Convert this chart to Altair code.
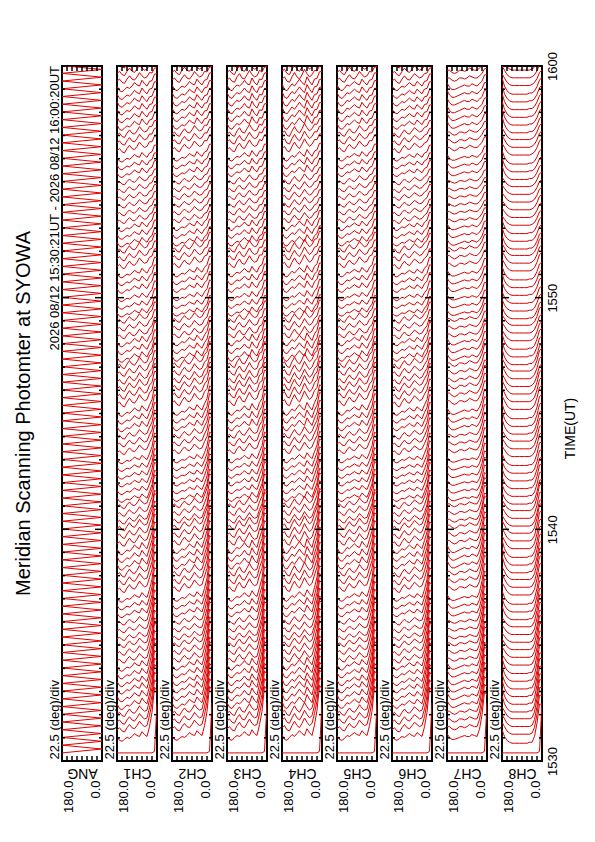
import altair as alt
import pandas as pd

FONT = "Liberation Sans"
TITLE = "Meridian Scanning Photomter at SYOWA"
SUBTITLE = "2026 08/12 15:30:21UT - 2026 08/12 16:00:20UT"
DIV_LABEL = "22.5 (deg)/div"
TIME_TITLE = "TIME(UT)"
CHANNELS = ["ANG", "CH1", "CH2", "CH3", "CH4", "CH5", "CH6", "CH7", "CH8"]
TIME_TICK_VALUES = [0, 10, 20, 30]
TIME_TICK_LABELS = ["1530", "1540", "1550", "1600"]
ANGLE_LABEL_VALUES = [0, 180]
ANGLE_TICKS = [22.5, 45, 67.5, 90, 112.5, 135, 157.5]
MINOR_MINUTES = [m for m in range(1, 30) if m not in (10, 20)]
MAJOR_MINUTES = [10, 20]

# scan angles (deg), left (180) to right (0)
ANGLES = [180.0, 168.75, 157.5, 146.25, 135.0, 123.75, 112.5, 101.25, 90.0,
          78.75, 67.5, 56.25, 45.0, 33.75, 22.5, 11.25, 0.0]

# scan start times, seconds after 15:30:00
SCAN_SEC = [21, 41, 61, 81, 101, 121, 141, 161, 181, 201, 221, 241, 261, 281, 301,
            321, 341, 361, 381, 401, 421, 441, 461, 481, 501, 521, 541, 561, 581, 601,
            621, 641, 661, 681, 701, 721, 741, 761, 781, 801, 821, 841, 861, 881, 901,
            921, 941, 961, 981, 1001, 1021, 1041, 1061, 1081, 1101, 1121, 1141, 1161, 1181, 1201,
            1221, 1241, 1261, 1281, 1301, 1321, 1341, 1361, 1381, 1401, 1421, 1441, 1461, 1481, 1501,
            1521, 1541, 1561, 1581, 1601, 1621, 1641, 1661, 1681, 1701, 1721, 1741, 1761, 1781, 1801]
SCAN_STEP_SEC = 20
HALF_SWEEP_SEC = 10

# intensity profiles (in units of one scan spacing), 180 deg -> 0 deg; two observed shapes
PROFILES_A = {
    "CH1": [0.9, 0.5, 0.4, 0.6, 0.8, 0.7, 0.9, 1.2, 1.0, 0.9, 1.4, 1.1, 0.9, 1.2, 1.0, 1.2, 1.3],
    "CH2": [1.0, 0.6, 0.5, 0.7, 0.9, 0.8, 1.0, 1.3, 1.1, 1.0, 1.5, 1.2, 1.0, 1.3, 1.1, 1.3, 1.4],
    "CH3": [1.0, 0.6, 0.5, 0.8, 1.0, 0.9, 1.1, 1.4, 1.1, 1.0, 1.6, 1.2, 1.0, 1.4, 1.1, 1.3, 1.4],
    "CH4": [1.1, 0.6, 0.5, 0.8, 1.1, 0.9, 1.2, 1.5, 1.2, 1.0, 1.7, 1.3, 1.0, 1.4, 1.2, 1.4, 1.5],
    "CH5": [1.0, 0.6, 0.5, 0.7, 1.0, 0.9, 1.1, 1.3, 1.1, 1.0, 1.5, 1.2, 1.0, 1.3, 1.1, 1.3, 1.4],
    "CH6": [0.9, 0.6, 0.5, 0.7, 0.9, 0.8, 1.0, 1.2, 1.0, 0.9, 1.3, 1.1, 0.9, 1.2, 1.0, 1.2, 1.3],
    "CH7": [1.2, 0.8, 0.6, 0.6, 0.7, 0.8, 0.9, 1.0, 0.9, 0.9, 1.1, 1.0, 0.9, 1.0, 1.0, 1.2, 1.3],
    "CH8": [1.6, 0.9, 0.5, 0.3, 0.2, 0.2, 0.2, 0.2, 0.2, 0.2, 0.2, 0.3, 0.3, 0.4, 0.6, 0.9, 1.2],
}
PROFILES_B = {
    "CH1": [0.7, 0.9, 0.6, 0.5, 0.9, 1.2, 0.9, 0.8, 1.1, 1.5, 1.2, 1.0, 1.1, 1.4, 1.1, 1.2, 1.3],
    "CH2": [0.8, 1.0, 0.7, 0.6, 1.0, 1.3, 1.0, 0.9, 1.2, 1.6, 1.3, 1.1, 1.2, 1.5, 1.2, 1.3, 1.4],
    "CH3": [0.8, 1.0, 0.7, 0.6, 1.1, 1.4, 1.0, 0.9, 1.3, 1.7, 1.3, 1.1, 1.2, 1.6, 1.2, 1.3, 1.4],
    "CH4": [0.9, 1.1, 0.7, 0.6, 1.1, 1.5, 1.1, 0.9, 1.3, 1.8, 1.4, 1.1, 1.3, 1.6, 1.3, 1.4, 1.5],
    "CH5": [0.8, 1.0, 0.7, 0.6, 1.0, 1.3, 1.0, 0.9, 1.2, 1.6, 1.3, 1.1, 1.2, 1.5, 1.2, 1.3, 1.4],
    "CH6": [0.7, 0.9, 0.6, 0.5, 0.9, 1.2, 0.9, 0.8, 1.1, 1.4, 1.2, 1.0, 1.1, 1.3, 1.1, 1.2, 1.3],
    "CH7": [1.0, 1.0, 0.8, 0.7, 0.8, 1.0, 1.0, 0.9, 1.0, 1.2, 1.1, 1.0, 1.0, 1.1, 1.1, 1.2, 1.3],
    "CH8": [1.4, 1.0, 0.6, 0.4, 0.3, 0.3, 0.3, 0.3, 0.3, 0.3, 0.3, 0.3, 0.4, 0.5, 0.7, 1.0, 1.3],
}
HORIZON_SHAPE = [0, 0, 0, 0, 0, 0, 0, 0, 0, 0, 0, 0, 0, 0.15, 0.5, 1.0, 0.9]
HORIZON_SCALE = {"CH1": 1.0, "CH2": 1.0, "CH3": 1.0, "CH4": 1.0, "CH5": 1.0,
                 "CH6": 1.0, "CH7": 0.9, "CH8": 0.7}
FIRST_SCAN = [0, 0, 0, 0, 0, 0, 0, 0, 0, 0, 0, 0, 0, 0, 0, 0.2, 6.5]
# per-minute values, 15:30 .. 16:00
SHAPE_USED = [0, 1, 0, 0, 1, 1, 0, 1, 0, 1, 1, 0, 0, 1, 0, 1, 1, 0, 1, 0, 0, 1, 0, 1, 1, 0, 1, 0, 0, 1, 0]
MID_GAIN = [1.25, 1.4, 1.5, 1.4, 1.25, 1.1, 1.25, 1.5, 1.6, 1.5, 1.25, 1.1, 1.1, 1.25, 1.4, 1.6,
            1.5, 1.4, 1.25, 1.1, 1.25, 1.4, 1.25, 1.1, 1.1, 1.25, 1.4, 1.5, 1.5, 1.4, 1.4]
HORIZON_GAIN = [6.0, 5.8, 5.5, 5.2, 5.0, 4.8, 4.5, 4.2, 4.0, 3.8, 3.5, 3.3, 3.1, 2.9, 2.7, 2.5,
                2.3, 2.1, 1.9, 1.8, 1.7, 1.6, 1.5, 1.4, 1.3, 1.2, 1.2, 1.1, 1.1, 1.0, 1.0]

rows = []
i = 0
for s in SCAN_SEC:
    # mirror angle: 180 -> 0 -> 180 within each scan
    rows.append({"ch": "ANG", "scan": 0, "idx": i, "angle": 180.0, "t": s / 60}); i += 1
    rows.append({"ch": "ANG", "scan": 0, "idx": i, "angle": 0.0, "t": (s + HALF_SWEEP_SEC) / 60}); i += 1
rows.append({"ch": "ANG", "scan": 0, "idx": i, "angle": 180.0, "t": (SCAN_SEC[-1] + SCAN_STEP_SEC) / 60})

for ch in PROFILES_A:
    for k, s in enumerate(SCAN_SEC):
        m = s // 60
        prof = PROFILES_A[ch] if SHAPE_USED[m] == 0 else PROFILES_B[ch]
        for j, a in enumerate(ANGLES):
            if k == 0:
                v = FIRST_SCAN[j]
            else:
                v = prof[j] * MID_GAIN[m] + HORIZON_SHAPE[j] * HORIZON_GAIN[m] * HORIZON_SCALE[ch]
            rows.append({"ch": ch, "scan": k, "idx": j, "angle": a,
                         "t": (s + v * SCAN_STEP_SEC) / 60})
df = pd.DataFrame(rows)

W, H = 40, 695
RED = "#dd0000"
label_expr = "[" + ",".join("'" + l + "'" for l in TIME_TICK_LABELS) + "][round(datum.value/10)]"


def panel(ch, n):
    first = n == 0
    last = n == len(CHANNELS) - 1
    xs = alt.Scale(domain=[0, 180], reverse=True, nice=False, zero=False)
    ys = alt.Scale(domain=[0, 30], nice=False, zero=False)
    xaxis = alt.Axis(orient="bottom", values=ANGLE_LABEL_VALUES, format=".1f", labelAngle=270,
                     labelAlign="right",
                     labelBaseline={"condition": {"test": "datum.value == 180", "value": "top"},
                                    "value": "bottom"},
                     labelPadding=19, labelFlush=False, labelOverlap=False, labelFontSize=13,
                     labelColor="black", labelFont=FONT,
                     ticks=False, domain=False, grid=False,
                     title=ch, titleAngle=180, titleX=W / 2, titleY=7, titleAlign="center",
                     titleBaseline="alphabetic", titleFontSize=14, titleFontWeight="normal",
                     titleColor="black", titleFont=FONT)
    yleft = alt.Axis(orient="left", title=DIV_LABEL, labels=False, ticks=False, domain=False, grid=False,
                     titleAngle=270, titleAlign="left", titleBaseline="bottom",
                     titleX=-1, titleY=H - 2, titleFontSize=13, titleFontWeight="normal",
                     titleColor="black", titleFont=FONT)
    lines = alt.Chart(df).transform_filter(alt.datum.ch == ch).mark_line(
        color=RED, strokeWidth=1.0, clip=True
    ).encode(
        x=alt.X("angle:Q", scale=xs, axis=xaxis),
        y=alt.Y("t:Q", scale=ys, axis=yleft),
        detail="scan:N",
        order="idx:Q",
    )
    at = alt.Chart(pd.DataFrame({"a": ANGLE_TICKS}))
    top_t = at.mark_rule(color="black", strokeWidth=1.5).encode(
        x=alt.X("a:Q", scale=xs, axis=None), y=alt.value(0), y2=alt.value(5))
    bot_t = at.mark_rule(color="black", strokeWidth=1.5).encode(
        x=alt.X("a:Q", scale=xs, axis=None), y=alt.value(H), y2=alt.value(H - 5))
    if last:
        yright = alt.Axis(orient="right", values=TIME_TICK_VALUES, labelExpr=label_expr,
                          labelAngle=270, labelAlign="center", labelBaseline="top",
                          labelPadding=4, labelFontSize=13, ticks=False, domain=False, grid=False,
                          labelColor="black", labelFont=FONT,
                          title=TIME_TITLE, titleAngle=270, titleAlign="center", titleBaseline="top",
                          titleX=21, titleY=362, titleFontSize=14, titleFontWeight="normal",
                          titleColor="black", titleFont=FONT)
    else:
        yright = None
    mn = alt.Chart(pd.DataFrame({"m": MINOR_MINUTES}))
    mj = alt.Chart(pd.DataFrame({"m": MAJOR_MINUTES}))
    layers = [
        lines, top_t, bot_t,
        mn.mark_rule(color="black", strokeWidth=1.5).encode(
            y=alt.Y("m:Q", scale=ys, axis=yright), x=alt.value(0), x2=alt.value(3)),
        mn.mark_rule(color="black", strokeWidth=1.5).encode(
            y=alt.Y("m:Q", scale=ys, axis=None), x=alt.value(W), x2=alt.value(W - 3)),
        mj.mark_rule(color="black", strokeWidth=1.5).encode(
            y=alt.Y("m:Q", scale=ys, axis=None), x=alt.value(0), x2=alt.value(7)),
        mj.mark_rule(color="black", strokeWidth=1.5).encode(
            y=alt.Y("m:Q", scale=ys, axis=None), x=alt.value(W), x2=alt.value(W - 7)),
    ]
    if first:
        sub = alt.Chart(pd.DataFrame({"txt": [SUBTITLE]})).mark_text(
            angle=270, align="right", baseline="bottom", fontSize=13, font=FONT, color="black"
        ).encode(
            x=alt.XDatum(180, scale=xs, axis=None),
            y=alt.YDatum(30, scale=ys, axis=None),
            text="txt:N",
        )
        layers.append(sub)
    return alt.layer(*layers).resolve_axis(x="independent", y="independent").properties(width=W, height=H)


chart = alt.hconcat(*[panel(c, n) for n, c in enumerate(CHANNELS)], spacing=15, bounds="flush").properties(
    title=alt.TitleParams(TITLE, orient="left", anchor="middle", frame="group", fontSize=20,
                          font=FONT, fontWeight="normal", offset=13, color="black"),
    padding={"left": 5, "top": 42, "right": 5, "bottom": 5},
    background="white",
).configure_view(stroke="black", strokeWidth=2, fill="white")

chart.save("out.html", embed_options={"renderer": "svg", "actions": False})
